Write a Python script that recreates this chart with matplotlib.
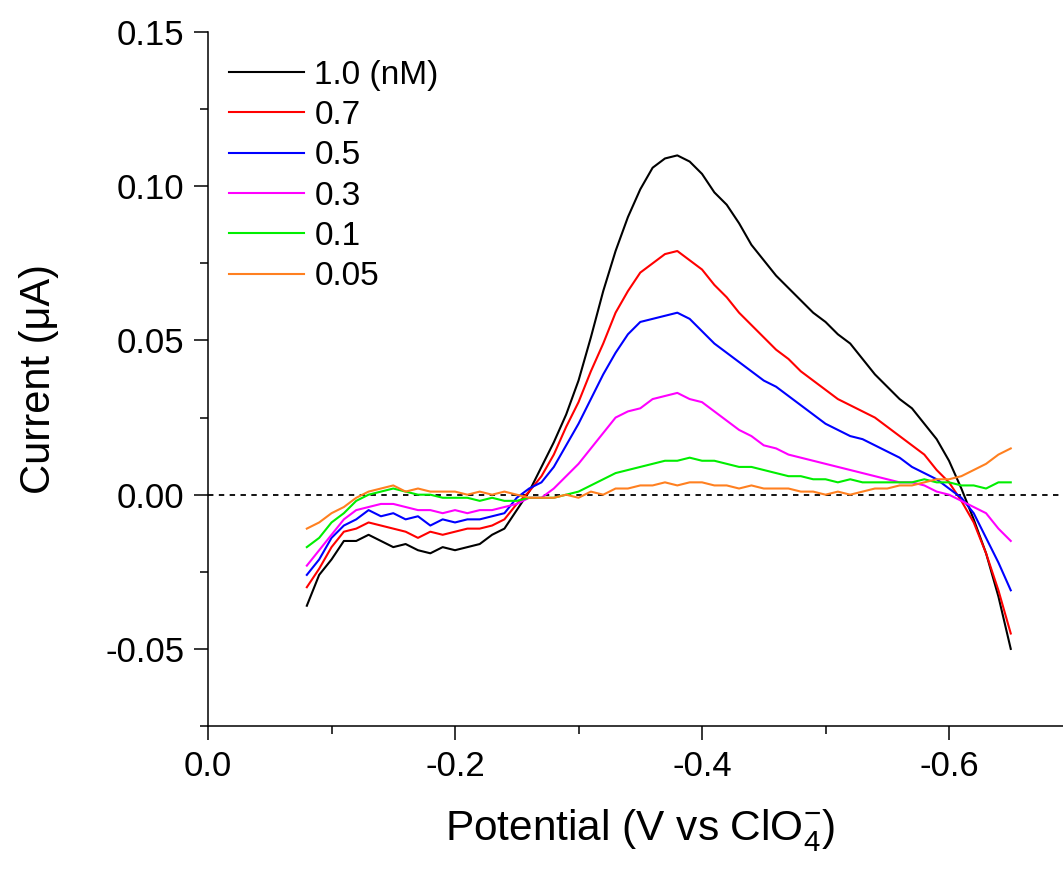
import numpy as np
import matplotlib
matplotlib.use("Agg")
import matplotlib.pyplot as plt
from matplotlib.ticker import MultipleLocator, FormatStrFormatter

plt.rcParams['font.family'] = ['Liberation Sans', 'DejaVu Sans']
plt.rcParams['mathtext.fontset'] = 'custom'
plt.rcParams['mathtext.rm'] = 'Liberation Sans'
plt.rcParams['mathtext.it'] = 'Liberation Sans:italic'
plt.rcParams['axes.unicode_minus'] = False

# potential (V), plotted as negative values
potential = -np.round(np.arange(0.08, 0.6501, 0.01), 2)

c_10 = [-0.036, -0.026, -0.021, -0.015, -0.015, -0.013, -0.015, -0.017, -0.016, -0.018,
        -0.019, -0.017, -0.018, -0.017, -0.016, -0.013, -0.011, -0.005, 0.001, 0.009,
        0.017, 0.026, 0.037, 0.051, 0.066, 0.079, 0.090, 0.099, 0.106, 0.109,
        0.110, 0.108, 0.104, 0.098, 0.094, 0.088, 0.081, 0.076, 0.071, 0.067,
        0.063, 0.059, 0.056, 0.052, 0.049, 0.044, 0.039, 0.035, 0.031, 0.028,
        0.023, 0.018, 0.011, 0.002, -0.008, -0.019, -0.033, -0.050]
c_07 = [-0.030, -0.024, -0.017, -0.012, -0.011, -0.009, -0.010, -0.011, -0.012, -0.014,
        -0.012, -0.013, -0.012, -0.011, -0.011, -0.010, -0.008, -0.003, 0.001, 0.006,
        0.013, 0.022, 0.030, 0.040, 0.049, 0.059, 0.066, 0.072, 0.075, 0.078,
        0.079, 0.076, 0.073, 0.068, 0.064, 0.059, 0.055, 0.051, 0.047, 0.044,
        0.040, 0.037, 0.034, 0.031, 0.029, 0.027, 0.025, 0.022, 0.019, 0.016,
        0.013, 0.008, 0.004, -0.002, -0.009, -0.019, -0.031, -0.045]
c_05 = [-0.026, -0.021, -0.014, -0.010, -0.008, -0.005, -0.007, -0.006, -0.008, -0.007,
        -0.010, -0.008, -0.009, -0.008, -0.008, -0.007, -0.006, -0.001, 0.002, 0.004,
        0.009, 0.016, 0.023, 0.031, 0.039, 0.046, 0.052, 0.056, 0.057, 0.058,
        0.059, 0.057, 0.053, 0.049, 0.046, 0.043, 0.040, 0.037, 0.035, 0.032,
        0.029, 0.026, 0.023, 0.021, 0.019, 0.018, 0.016, 0.014, 0.012, 0.009,
        0.007, 0.005, 0.002, -0.001, -0.006, -0.014, -0.022, -0.031]
c_03 = [-0.023, -0.018, -0.013, -0.008, -0.005, -0.004, -0.003, -0.003, -0.004, -0.005,
        -0.005, -0.006, -0.005, -0.006, -0.005, -0.005, -0.004, -0.003, -0.001, -0.001,
        0.002, 0.006, 0.010, 0.015, 0.020, 0.025, 0.027, 0.028, 0.031, 0.032,
        0.033, 0.031, 0.030, 0.027, 0.024, 0.021, 0.019, 0.016, 0.015, 0.013,
        0.012, 0.011, 0.010, 0.009, 0.008, 0.007, 0.006, 0.005, 0.004, 0.004,
        0.003, 0.001, 0.000, -0.002, -0.004, -0.006, -0.011, -0.015]
c_01 = [-0.017, -0.014, -0.009, -0.006, -0.002, 0.000, 0.001, 0.002, 0.001, 0.000,
        0.000, -0.001, -0.001, -0.001, -0.002, -0.001, -0.002, -0.002, -0.001, -0.001,
        -0.001, 0.000, 0.001, 0.003, 0.005, 0.007, 0.008, 0.009, 0.010, 0.011,
        0.011, 0.012, 0.011, 0.011, 0.010, 0.009, 0.009, 0.008, 0.007, 0.006,
        0.006, 0.005, 0.005, 0.004, 0.005, 0.004, 0.004, 0.004, 0.004, 0.004,
        0.005, 0.004, 0.004, 0.003, 0.003, 0.002, 0.004, 0.004]
c_005 = [-0.011, -0.009, -0.006, -0.004, -0.001, 0.001, 0.002, 0.003, 0.001, 0.002,
         0.001, 0.001, 0.001, 0.000, 0.001, 0.000, 0.001, 0.000, -0.001, -0.001,
         -0.001, 0.000, -0.001, 0.001, 0.000, 0.002, 0.002, 0.003, 0.003, 0.004,
         0.003, 0.004, 0.004, 0.003, 0.003, 0.002, 0.003, 0.002, 0.002, 0.002,
         0.001, 0.001, 0.000, 0.001, 0.000, 0.001, 0.002, 0.002, 0.003, 0.003,
         0.004, 0.005, 0.005, 0.006, 0.008, 0.010, 0.013, 0.015]

series = [c_10, c_07, c_05, c_03, c_01, c_005]
labels = ['1.0 (nM)', '0.7', '0.5', '0.3', '0.1', '0.05']
colors = ['#000000', '#ff0000', '#0000ff', '#ff00ff', '#00ee00', '#ff8020']

fig = plt.figure(figsize=(10.63, 8.72), dpi=100)
ax = fig.add_axes([0.1957, 0.1674, 0.8043, 0.7959])

ax.axhline(0, color='black', linestyle=(0, (3, 3)), linewidth=1.3, zorder=1)
for y, lab, col in zip(series, labels, colors):
    ax.plot(potential, y, color=col, linewidth=1.5, label=lab)

ax.set_xlim(0, -0.6923)
ax.set_ylim(-0.075, 0.15)
ax.xaxis.set_major_locator(MultipleLocator(0.2))
ax.xaxis.set_minor_locator(MultipleLocator(0.1))
ax.yaxis.set_major_locator(MultipleLocator(0.05))
ax.yaxis.set_minor_locator(MultipleLocator(0.025))
ax.xaxis.set_major_formatter(FormatStrFormatter('%.1f'))
ax.yaxis.set_major_formatter(FormatStrFormatter('%.2f'))

ax.spines['top'].set_visible(False)
ax.spines['right'].set_visible(False)
for s in ['left', 'bottom']:
    ax.spines[s].set_linewidth(1.1)
ax.tick_params(which='major', direction='out', length=10, width=1.1, labelsize=25, pad=7)
ax.tick_params(which='minor', direction='out', length=6, width=1.1)

ax.set_xlabel(r'Potential (V vs ClO$_4^{-}$)', fontsize=30.5)
ax.xaxis.set_label_coords(0.505, -0.118)
ax.xaxis.label.set_va('top')
ax.set_ylabel('Current (μA)', fontsize=30, labelpad=33)

ax.legend(loc='upper left', bbox_to_anchor=(0.025, 0.96), frameon=False, fontsize=24,
          handlelength=2.25, handletextpad=0.3, labelspacing=0.28, borderpad=0, borderaxespad=0)

fig.savefig('out.png', dpi=100)
